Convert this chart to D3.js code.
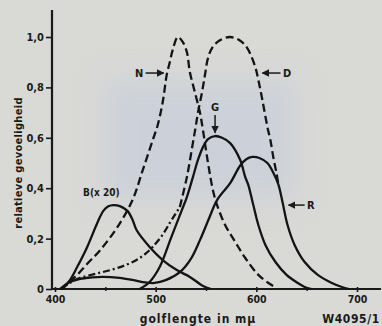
<!DOCTYPE html>
<html><head><meta charset="utf-8">
<script src="https://cdn.jsdelivr.net/npm/d3@7"></script>
<style>
html,body{margin:0;padding:0;background:#d9d9d6;}
svg{display:block;}
text{font-family:"Liberation Sans Narrow","DejaVu Sans Condensed","Liberation Sans",sans-serif;font-weight:bold;fill:#1a1a1a;}
</style></head>
<body>
<svg id="c" width="382" height="326"></svg>
<script>
// ---- data ----
const xTicks = [400, 500, 600, 700];
const xMinorTicks = [450, 550, 650];
const yTicks = [0, 0.2, 0.4, 0.6, 0.8, 1.0];
const yTickLabels = ["0", "0,2", "0,4", "0,6", "0,8", "1,0"];

// N (night, dashed)
const seriesN = [[405,0],[410,0.016],[420,0.048],[432,0.10],[445,0.155],[462,0.246],[477,0.353],[487,0.47],[497,0.59],[502,0.65],[507,0.742],[511,0.85],[514,0.90],[517,0.95],[522,1.0],[527,0.98],[531,0.94],[534,0.86],[539,0.78],[544,0.70],[547,0.63],[552,0.50],[557,0.39],[561,0.333],[569,0.254],[579,0.187],[589,0.123],[602,0.056],[612,0.024],[620,0.004]];
// D (day, dashed; lower part dash-dot)
const seriesD = [[407,0],[413,0.02],[425,0.044],[440,0.06],[455,0.075],[470,0.095],[481,0.115],[490,0.14],[497,0.167],[506,0.21],[514,0.262],[520,0.30],[524,0.325],[531,0.444],[537,0.58],[540,0.65],[542,0.70],[546,0.78],[549,0.85],[552,0.917],[556,0.956],[563,0.985],[574,1.0],[584,0.985],[591,0.956],[599,0.88],[602,0.83],[606,0.75],[611,0.643],[614,0.59],[617,0.52],[620,0.46],[622,0.413]];
const dDashDotBelow = 524;
// B (x20)
const seriesB = [[407,0],[415,0.036],[422,0.087],[432,0.167],[442,0.262],[448,0.31],[453,0.328],[458,0.333],[465,0.328],[472,0.31],[477,0.275],[481,0.234],[494,0.167],[507,0.115],[521,0.075],[534,0.048],[547,0.012],[555,0]];
// G
const seriesG = [[484,0],[494,0.028],[504,0.087],[515,0.2],[526,0.313],[531,0.365],[537,0.444],[542,0.512],[547,0.563],[552,0.595],[559,0.607],[566,0.60],[574,0.579],[584,0.512],[589,0.444],[592,0.413],[597,0.333],[602,0.254],[609,0.175],[619,0.107],[630,0.056],[641,0.024],[648,0.008],[655,0]];
// R
const seriesR = [[407,0],[413,0.024],[425,0.04],[437,0.046],[448,0.048],[464,0.044],[477,0.036],[490,0.026],[499,0.024],[510,0.035],[524,0.067],[535,0.12],[544,0.194],[553,0.28],[561,0.353],[574,0.42],[584,0.49],[590,0.515],[596,0.524],[603,0.52],[611,0.5],[617,0.46],[622,0.413],[626,0.345],[631,0.254],[638,0.175],[648,0.107],[661,0.056],[675,0.024],[685,0.008],[692,0]];

// ---- drawing ----
const svg = d3.select("#c");
const x = d3.scaleLinear().domain([400, 700]).range([55, 357]);
const y = d3.scaleLinear().domain([0, 1]).range([289, 37]);
const axisX = 52, axisY = y(0);

// scan tint
const defs = svg.append("defs");
defs.append("filter").attr("id","blur").attr("x","-50%").attr("y","-50%").attr("width","200%").attr("height","200%")
  .append("feGaussianBlur").attr("stdDeviation", 14);
svg.append("rect").attr("x",0).attr("y",0).attr("width",382).attr("height",326).attr("fill","#d9d9d6");
svg.append("rect").attr("x",105).attr("y",80).attr("width",190).attr("height",120)
  .attr("fill","#c4cddb").attr("opacity",0.6).attr("filter","url(#blur)");

// arrow marker
defs.append("marker").attr("id","arr").attr("viewBox","0 0 10 10").attr("refX",9).attr("refY",5)
  .attr("markerWidth",5).attr("markerHeight",5).attr("orient","auto-start-reverse")
  .append("path").attr("d","M0,0L10,5L0,10z").attr("fill","#1a1a1a");

// axes
const gy = svg.append("g").attr("transform",`translate(${axisX},0)`)
  .call(d3.axisLeft(y).tickValues(yTicks).tickFormat((d,i)=>yTickLabels[i]).tickSize(6).tickPadding(2));
gy.select(".domain").remove();
gy.selectAll("line").attr("stroke","#1a1a1a").attr("stroke-width",1.6);
gy.selectAll("text").attr("font-size",11).attr("fill","#1a1a1a");

const gx = svg.append("g").attr("transform",`translate(0,${axisY})`)
  .call(d3.axisBottom(x).tickValues(xTicks).tickSize(3).tickPadding(4));
gx.select(".domain").remove();
gx.selectAll("line").attr("stroke","#1a1a1a").attr("stroke-width",1.6).attr("y1",-2);
gx.selectAll("text").attr("font-size",10.5).attr("fill","#1a1a1a");
const gxm = svg.append("g").attr("transform",`translate(0,${axisY})`)
  .call(d3.axisBottom(x).tickValues(xMinorTicks).tickSize(2).tickFormat(""));
gxm.select(".domain").remove();
gxm.selectAll("line").attr("stroke","#1a1a1a").attr("stroke-width",1.4).attr("y1",-2);

svg.append("line").attr("x1",axisX).attr("x2",axisX).attr("y1",10).attr("y2",axisY+1)
  .attr("stroke","#1a1a1a").attr("stroke-width",2.2);
svg.append("line").attr("x1",axisX-1).attr("x2",381).attr("y1",axisY).attr("y2",axisY)
  .attr("stroke","#1a1a1a").attr("stroke-width",2.2);

// curves
const line = d3.line().x(d=>x(d[0])).y(d=>y(d[1])).curve(d3.curveCatmullRom.alpha(0.5));
function draw(data, dash){
  const p = svg.append("path").datum(data).attr("d",line).attr("fill","none")
    .attr("stroke","#141414").attr("stroke-width",2.3).attr("stroke-linecap","butt");
  if(dash) p.attr("stroke-dasharray",dash);
  return p;
}
draw(seriesB);
draw(seriesG);
draw(seriesR);
draw(seriesN, "8,4");
draw(seriesD.filter(d=>d[0] <= dDashDotBelow), "7,3,2,3");
draw(seriesD.filter(d=>d[0] >= dDashDotBelow), "8,4");

// annotations (data-space anchors)
function label(t, wl, v, size){
  svg.append("text").attr("x",x(wl)).attr("y",y(v)).attr("text-anchor","middle")
    .attr("dominant-baseline","central").attr("font-size",size||11).text(t);
}
function arrow(wl1, v1, wl2, v2){
  svg.append("line").attr("x1",x(wl1)).attr("y1",y(v1)).attr("x2",x(wl2)).attr("y2",y(v2))
    .attr("stroke","#1a1a1a").attr("stroke-width",1.5).attr("marker-end","url(#arr)");
}
label("N", 483.5, 0.857);
arrow(490, 0.857, 508, 0.857);
label("D", 630.5, 0.857);
arrow(624, 0.857, 606, 0.857);
label("G", 559, 0.722);
arrow(559, 0.69, 559, 0.62);
label("R", 654, 0.333);
arrow(648, 0.333, 632, 0.333);
label("B(x 20)", 446, 0.381, 10);

// axis titles
svg.append("text").attr("transform","translate(18,163) rotate(-90)").attr("text-anchor","middle")
  .attr("dominant-baseline","central").attr("font-size",11).attr("letter-spacing",0.3).text("relatieve gevoeligheid");
svg.append("text").attr("x",198).attr("y",323).attr("text-anchor","middle")
  .attr("font-size",12).attr("letter-spacing",1).text("golflengte in mμ");
svg.append("text").attr("x",351).attr("y",323).attr("text-anchor","middle")
  .attr("font-size",12).attr("letter-spacing",0.6).text("W4095/1");
</script>
</body></html>
